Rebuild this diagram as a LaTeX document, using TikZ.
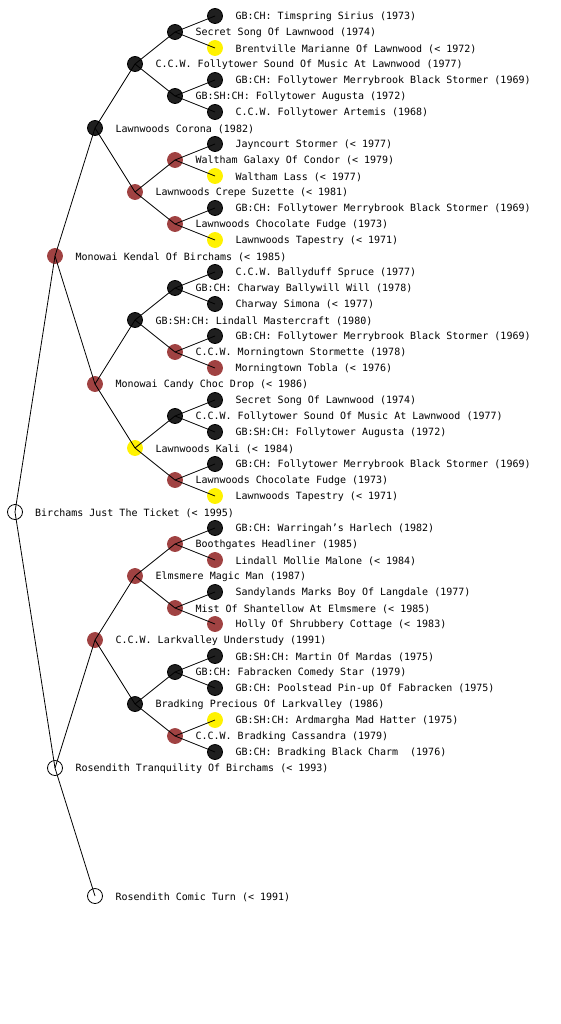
\documentclass[tikz,border=0pt]{standalone}
\usepackage{fontspec}
\newfontfamily\pedfont{DejaVu Sans Mono}
\definecolor{dogred}{RGB}{160,66,66}
\begin{document}
\begin{tikzpicture}[x=1pt,y=-1pt]
  \tikzset{
    dog/.style={circle, minimum size=15pt, inner sep=0pt, line width=0.8pt},
    blk/.style={dog, fill=black!88, draw=black},
    rdg/.style={dog, fill=dogred, draw=dogred},
    ylw/.style={dog, fill=yellow, draw=yellow},
    wht/.style={dog, fill=white, draw=black},
    lbl/.style={font=\pedfont\fontsize{10}{12}\selectfont, label distance=12.5pt, inner sep=0pt, yshift=-1pt}
  }
\useasboundingbox (0,0) rectangle (560,1024);
% generation 0 and 1
\node[wht] (r) at (15,512) {};
\node[rdg, label={[lbl]0:Monowai Kendal Of Birchams (< 1985)}] (rs) at (55,256) {};
\node[wht, label={[lbl]0:Rosendith Tranquility Of Birchams (< 1993)}] (rd) at (55,768) {};
\node[lbl, anchor=west] at (35,512) {Birchams Just The Ticket (< 1995)};
% generation 2
\node[blk, label={[lbl]0:Lawnwoods Corona (1982)}] (rss) at (95,128) {};
\node[rdg, label={[lbl]0:Monowai Candy Choc Drop (< 1986)}] (rsd) at (95,384) {};
\node[rdg, label={[lbl]0:C.C.W. Larkvalley Understudy (1991)}] (rds) at (95,640) {};
\node[wht, label={[lbl]0:Rosendith Comic Turn (< 1991)}] (rdd) at (95,896) {};
% generation 3
\node[blk, label={[lbl]0:C.C.W. Follytower Sound Of Music At Lawnwood (1977)}] (rsss) at (135,64) {};
\node[rdg, label={[lbl]0:Lawnwoods Crepe Suzette (< 1981)}] (rssd) at (135,192) {};
\node[blk, label={[lbl]0:GB:SH:CH: Lindall Mastercraft (1980)}] (rsds) at (135,320) {};
\node[ylw, label={[lbl]0:Lawnwoods Kali (< 1984)}] (rsdd) at (135,448) {};
\node[rdg, label={[lbl]0:Elmsmere Magic Man (1987)}] (rdss) at (135,576) {};
\node[blk, label={[lbl]0:Bradking Precious Of Larkvalley (1986)}] (rdsd) at (135,704) {};
% generation 4
\node[blk, label={[lbl]0:Secret Song Of Lawnwood (1974)}] (rssss) at (175,32) {};
\node[blk, label={[lbl]0:GB:SH:CH: Follytower Augusta (1972)}] (rsssd) at (175,96) {};
\node[rdg, label={[lbl]0:Waltham Galaxy Of Condor (< 1979)}] (rssds) at (175,160) {};
\node[rdg, label={[lbl]0:Lawnwoods Chocolate Fudge (1973)}] (rssdd) at (175,224) {};
\node[blk, label={[lbl]0:GB:CH: Charway Ballywill Will (1978)}] (rsdss) at (175,288) {};
\node[rdg, label={[lbl]0:C.C.W. Morningtown Stormette (1978)}] (rsdsd) at (175,352) {};
\node[blk, label={[lbl]0:C.C.W. Follytower Sound Of Music At Lawnwood (1977)}] (rsdds) at (175,416) {};
\node[rdg, label={[lbl]0:Lawnwoods Chocolate Fudge (1973)}] (rsddd) at (175,480) {};
\node[rdg, label={[lbl]0:Boothgates Headliner (1985)}] (rdsss) at (175,544) {};
\node[rdg, label={[lbl]0:Mist Of Shantellow At Elmsmere (< 1985)}] (rdssd) at (175,608) {};
\node[blk, label={[lbl]0:GB:CH: Fabracken Comedy Star (1979)}] (rdsds) at (175,672) {};
\node[rdg, label={[lbl]0:C.C.W. Bradking Cassandra (1979)}] (rdsdd) at (175,736) {};
% generation 5
\node[blk, label={[lbl]0:GB:CH: Timspring Sirius (1973)}] (rsssss) at (215,16) {};
\node[ylw, label={[lbl]0:Brentville Marianne Of Lawnwood (< 1972)}] (rssssd) at (215,48) {};
\node[blk, label={[lbl]0:GB:CH: Follytower Merrybrook Black Stormer (1969)}] (rsssds) at (215,80) {};
\node[blk, label={[lbl]0:C.C.W. Follytower Artemis (1968)}] (rsssdd) at (215,112) {};
\node[blk, label={[lbl]0:Jayncourt Stormer (< 1977)}] (rssdss) at (215,144) {};
\node[ylw, label={[lbl]0:Waltham Lass (< 1977)}] (rssdsd) at (215,176) {};
\node[blk, label={[lbl]0:GB:CH: Follytower Merrybrook Black Stormer (1969)}] (rssdds) at (215,208) {};
\node[ylw, label={[lbl]0:Lawnwoods Tapestry (< 1971)}] (rssddd) at (215,240) {};
\node[blk, label={[lbl]0:C.C.W. Ballyduff Spruce (1977)}] (rsdsss) at (215,272) {};
\node[blk, label={[lbl]0:Charway Simona (< 1977)}] (rsdssd) at (215,304) {};
\node[blk, label={[lbl]0:GB:CH: Follytower Merrybrook Black Stormer (1969)}] (rsdsds) at (215,336) {};
\node[rdg, label={[lbl]0:Morningtown Tobla (< 1976)}] (rsdsdd) at (215,368) {};
\node[blk, label={[lbl]0:Secret Song Of Lawnwood (1974)}] (rsddss) at (215,400) {};
\node[blk, label={[lbl]0:GB:SH:CH: Follytower Augusta (1972)}] (rsddsd) at (215,432) {};
\node[blk, label={[lbl]0:GB:CH: Follytower Merrybrook Black Stormer (1969)}] (rsddds) at (215,464) {};
\node[ylw, label={[lbl]0:Lawnwoods Tapestry (< 1971)}] (rsdddd) at (215,496) {};
\node[blk, label={[lbl]0:GB:CH: Warringah’s Harlech (1982)}] (rdssss) at (215,528) {};
\node[rdg, label={[lbl]0:Lindall Mollie Malone (< 1984)}] (rdsssd) at (215,560) {};
\node[blk, label={[lbl]0:Sandylands Marks Boy Of Langdale (1977)}] (rdssds) at (215,592) {};
\node[rdg, label={[lbl]0:Holly Of Shrubbery Cottage (< 1983)}] (rdssdd) at (215,624) {};
\node[blk, label={[lbl]0:GB:SH:CH: Martin Of Mardas (1975)}] (rdsdss) at (215,656) {};
\node[blk, label={[lbl]0:GB:CH: Poolstead Pin-up Of Fabracken (1975)}] (rdsdsd) at (215,688) {};
\node[ylw, label={[lbl]0:GB:SH:CH: Ardmargha Mad Hatter (1975)}] (rdsdds) at (215,720) {};
\node[blk, label={[lbl]0:GB:CH: Bradking Black Charm\ \ (1976)}] (rdsddd) at (215,752) {};
% parent links
\foreach \p in {r,rs,rd,rss,rsd,rds,rsss,rssd,rsds,rsdd,rdss,rdsd,
  rssss,rsssd,rssds,rssdd,rsdss,rsdsd,rsdds,rsddd,rdsss,rdssd,rdsds,rdsdd}
  \draw[line width=0.8pt] (\p.center) -- (\p s.center) (\p.center) -- (\p d.center);
\end{tikzpicture}
\end{document}
